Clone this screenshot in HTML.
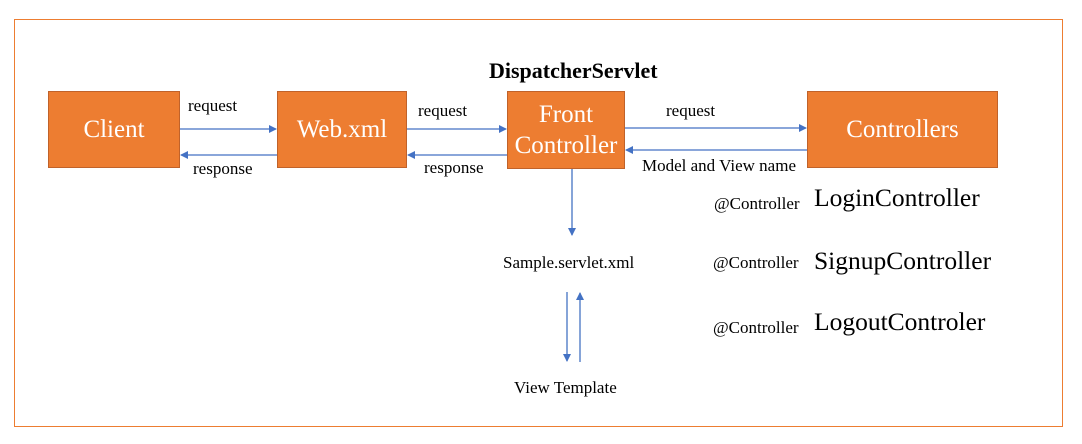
<!DOCTYPE html>
<html><head><style>
body{margin:0;width:1082px;height:444px;background:#fff;position:relative;font-family:"Liberation Serif",serif;overflow:hidden}
.b{position:absolute;background:#ED7D31;border:1px solid #C0622A;box-sizing:border-box;color:#fff;font-size:25px;display:flex;align-items:center;justify-content:center;text-align:center;line-height:31px}
.t{position:absolute;white-space:nowrap;color:#000}
.s{font-size:17px}
.l{font-size:25.5px}
</style></head><body>
<div style="position:absolute;left:14px;top:19px;width:1049px;height:408px;border:1px solid #ED7D31;box-sizing:border-box"></div>
<div class="t" style="left:489px;top:58px;font-size:22px;font-weight:bold">DispatcherServlet</div>
<div class="b" style="left:48px;top:91px;width:132px;height:77px">Client</div>
<div class="b" style="left:277px;top:91px;width:130px;height:77px">Web.xml</div>
<div class="b" style="left:507px;top:91px;width:118px;height:78px">Front<br>Controller</div>
<div class="b" style="left:807px;top:91px;width:191px;height:77px">Controllers</div>
<svg width="1082" height="444" style="position:absolute;left:0;top:0">
<defs><marker id="a" markerWidth="8" markerHeight="8" refX="7" refY="4" orient="auto" markerUnits="userSpaceOnUse"><path d="M0,0L8,4L0,8z" fill="#4472C4"/></marker></defs>
<g stroke="#4472C4" stroke-width="1.3" fill="none">
<line x1="180" y1="129" x2="276" y2="129" marker-end="url(#a)"/>
<line x1="277" y1="155" x2="181" y2="155" marker-end="url(#a)"/>
<line x1="407" y1="129" x2="506" y2="129" marker-end="url(#a)"/>
<line x1="507" y1="155" x2="408" y2="155" marker-end="url(#a)"/>
<line x1="625" y1="128" x2="806" y2="128" marker-end="url(#a)"/>
<line x1="807" y1="150" x2="626" y2="150" marker-end="url(#a)"/>
<line x1="572" y1="169" x2="572" y2="235" marker-end="url(#a)"/>
<line x1="567" y1="292" x2="567" y2="361" marker-end="url(#a)"/>
<line x1="580" y1="362" x2="580" y2="293" marker-end="url(#a)"/>
</g></svg>
<div class="t s" style="left:188px;top:96px">request</div>
<div class="t s" style="left:193px;top:159px">response</div>
<div class="t s" style="left:418px;top:101px">request</div>
<div class="t s" style="left:424px;top:158px">response</div>
<div class="t s" style="left:666px;top:101px">request</div>
<div class="t s" style="left:642px;top:156px">Model and View name</div>
<div class="t s" style="left:503px;top:253px">Sample.servlet.xml</div>
<div class="t s" style="left:514px;top:378px">View Template</div>
<div class="t s" style="left:714px;top:194px">@Controller</div>
<div class="t l" style="left:814px;top:183px">LoginController</div>
<div class="t s" style="left:713px;top:253px">@Controller</div>
<div class="t l" style="left:814px;top:246px">SignupController</div>
<div class="t s" style="left:713px;top:318px">@Controller</div>
<div class="t l" style="left:814px;top:307px">LogoutControler</div>
</body></html>
